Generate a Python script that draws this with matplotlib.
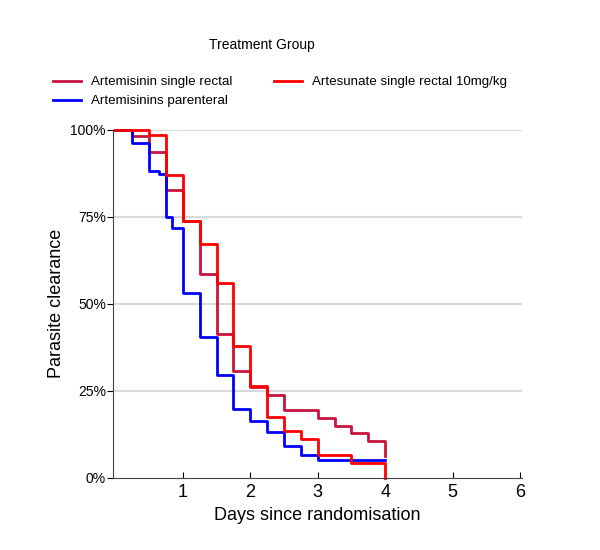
import matplotlib.pyplot as plt
from matplotlib.lines import Line2D

# Kaplan-Meier style step data (days, fraction not yet cleared)
rect_t = [0, 0.25, 0.5, 0.75, 1.0, 1.25, 1.5, 1.75, 2.0, 2.25, 2.5, 3.0, 3.25, 3.5, 3.75, 4.0]
rect_s = [1.0, 0.981, 0.936, 0.828, 0.739, 0.586, 0.414, 0.306, 0.261, 0.237, 0.195, 0.171, 0.150, 0.128, 0.106, 0.063]

paren_t = [0, 0.25, 0.5, 0.65, 0.75, 0.84, 1.0, 1.25, 1.5, 1.75, 2.0, 2.25, 2.5, 2.75, 3.0, 4.0]
paren_s = [1.0, 0.963, 0.883, 0.874, 0.749, 0.719, 0.531, 0.404, 0.295, 0.197, 0.163, 0.131, 0.093, 0.065, 0.052, 0.052]

artes_t = [0, 0.5, 0.75, 1.0, 1.25, 1.5, 1.75, 2.0, 2.25, 2.5, 2.75, 3.0, 3.5, 4.0]
artes_s = [1.0, 0.984, 0.869, 0.739, 0.672, 0.559, 0.380, 0.264, 0.176, 0.135, 0.111, 0.066, 0.042, 0.0]

labels = ["Artemisinin single rectal", "Artemisinins parenteral", "Artesunate single rectal 10mg/kg"]
colors = ["#c8143c", "#0000ff", "#ff0000"]

yticks = [0, 0.25, 0.5, 0.75, 1.0]
ytick_labels = ["0%", "25%", "50%", "75%", "100%"]
xticks = [1, 2, 3, 4, 5, 6]

plt.rcParams['font.family'] = ['Liberation Sans', 'DejaVu Sans']

fig = plt.figure(figsize=(6, 5.5), dpi=100)
ax = fig.add_axes([0.188, 0.131, 0.682, 0.633])

for y in yticks[1:]:
    ax.axhline(y, color="#d9d9d9", lw=1.5, zorder=0)

series = [(rect_t, rect_s), (paren_t, paren_s), (artes_t, artes_s)]
for (t, s), c in zip(series, colors):
    ax.step(t, s, where="post", color=c, lw=2, clip_on=False)

ax.set_xlim(-0.04, 6.03)
ax.set_ylim(0, 1)
ax.set_xticks(xticks)
ax.set_yticks(yticks)
ax.set_yticklabels(ytick_labels)
ax.tick_params(axis="x", direction="in", length=4, labelsize=13, pad=4)
ax.tick_params(axis="y", direction="out", length=4, labelsize=10, pad=1)

for side in ["top", "right"]:
    ax.spines[side].set_visible(False)
ax.spines["left"].set_color("#444444")
ax.spines["bottom"].set_color("#444444")

ax.set_xlabel("Days since randomisation", fontsize=13, labelpad=5)
ax.set_ylabel("Parasite clearance", fontsize=13, labelpad=4)

# legend
handles = [Line2D([], [], color=c, lw=2) for c in colors]
fig.text(262 / 600, 1 - 45 / 550, "Treatment Group", ha="center", va="center", fontsize=10)
fig.legend(handles, labels, ncol=2, loc="upper left", bbox_to_anchor=(0.088, 1 - 76 / 550),
           frameon=False, fontsize=9.6, handlelength=2.1, handletextpad=0.8,
           columnspacing=3.05, labelspacing=0.5, borderaxespad=0, borderpad=0)

plt.savefig("out.png", dpi=100)
